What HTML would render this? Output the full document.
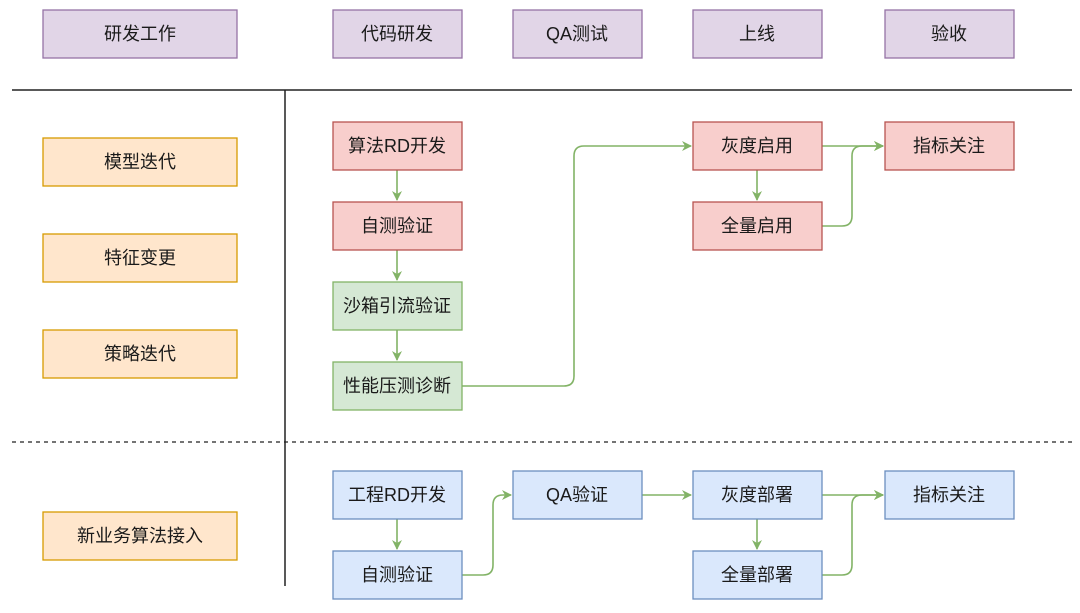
<!DOCTYPE html>
<html><head><meta charset="utf-8"><style>
html,body{margin:0;padding:0;background:#fff;}
svg{display:block;}
text{font-family:"Liberation Sans","Noto Sans CJK SC",sans-serif;font-size:18px;fill:#1a1a1a;text-anchor:middle;dominant-baseline:central;}
.p{fill:#e1d5e7;stroke:#9673a6;stroke-width:1.3}
.o{fill:#ffe6cc;stroke:#d79b00;stroke-width:1.3}
.r{fill:#f8cecc;stroke:#b85450;stroke-width:1.3}
.g{fill:#d5e8d4;stroke:#82b366;stroke-width:1.3}
.b{fill:#dae8fc;stroke:#6c8ebf;stroke-width:1.3}
.e{fill:none;stroke:#82b366;stroke-width:1.6}
</style></head><body>
<svg width="1080" height="613" viewBox="0 0 1080 613">
<defs><marker id="a" markerWidth="10" markerHeight="10" refX="9" refY="5" orient="auto" markerUnits="userSpaceOnUse"><path d="M0,0 L10,5 L0,10 L3,5 Z" fill="#82b366"/></marker></defs>
<line x1="12" y1="90" x2="1072" y2="90" stroke="#222" stroke-width="1.5"/>
<line x1="285" y1="90" x2="285" y2="586" stroke="#222" stroke-width="1.5"/>
<line x1="12" y1="442" x2="1072" y2="442" stroke="#222" stroke-width="1.3" stroke-dasharray="4,4"/>

<rect class="p" x="43" y="10" width="194" height="48"/><text x="140" y="34">研发工作</text>
<rect class="p" x="333" y="10" width="129" height="48"/><text x="397" y="34">代码研发</text>
<rect class="p" x="513" y="10" width="129" height="48"/><text x="577" y="34">QA测试</text>
<rect class="p" x="693" y="10" width="129" height="48"/><text x="757" y="34">上线</text>
<rect class="p" x="885" y="10" width="129" height="48"/><text x="949" y="34">验收</text>

<rect class="o" x="43" y="138" width="194" height="48"/><text x="140" y="162">模型迭代</text>
<rect class="o" x="43" y="234" width="194" height="48"/><text x="140" y="258">特征变更</text>
<rect class="o" x="43" y="330" width="194" height="48"/><text x="140" y="354">策略迭代</text>
<rect class="o" x="43" y="512" width="194" height="48"/><text x="140" y="536">新业务算法接入</text>

<path class="e" d="M397,170 V200" marker-end="url(#a)"/>
<path class="e" d="M397,250 V280" marker-end="url(#a)"/>
<path class="e" d="M397,330 V360" marker-end="url(#a)"/>
<path class="e" d="M462,386 H564 Q574,386 574,376 V156 Q574,146 584,146 H691" marker-end="url(#a)"/>
<path class="e" d="M822,146 H883" marker-end="url(#a)"/>
<path class="e" d="M757,170 V200" marker-end="url(#a)"/>
<path class="e" d="M822,226 H842 Q852,226 852,216 V156 Q852,146 862,146 H883" marker-end="url(#a)"/>

<rect class="r" x="333" y="122" width="129" height="48"/><text x="397" y="146">算法RD开发</text>
<rect class="r" x="333" y="202" width="129" height="48"/><text x="397" y="226">自测验证</text>
<rect class="g" x="333" y="282" width="129" height="48"/><text x="397" y="306">沙箱引流验证</text>
<rect class="g" x="333" y="362" width="129" height="48"/><text x="397" y="386">性能压测诊断</text>
<rect class="r" x="693" y="122" width="129" height="48"/><text x="757" y="146">灰度启用</text>
<rect class="r" x="693" y="202" width="129" height="48"/><text x="757" y="226">全量启用</text>
<rect class="r" x="885" y="122" width="129" height="48"/><text x="949" y="146">指标关注</text>

<path class="e" d="M397,519 V549" marker-end="url(#a)"/>
<path class="e" d="M462,575 H483 Q493,575 493,565 V505 Q493,495 503,495 H511" marker-end="url(#a)"/>
<path class="e" d="M642,495 H691" marker-end="url(#a)"/>
<path class="e" d="M822,495 H883" marker-end="url(#a)"/>
<path class="e" d="M757,519 V549" marker-end="url(#a)"/>
<path class="e" d="M822,575 H842 Q852,575 852,565 V505 Q852,495 862,495 H883" marker-end="url(#a)"/>

<rect class="b" x="333" y="471" width="129" height="48"/><text x="397" y="495">工程RD开发</text>
<rect class="b" x="333" y="551" width="129" height="48"/><text x="397" y="575">自测验证</text>
<rect class="b" x="513" y="471" width="129" height="48"/><text x="577" y="495">QA验证</text>
<rect class="b" x="693" y="471" width="129" height="48"/><text x="757" y="495">灰度部署</text>
<rect class="b" x="693" y="551" width="129" height="48"/><text x="757" y="575">全量部署</text>
<rect class="b" x="885" y="471" width="129" height="48"/><text x="949" y="495">指标关注</text>
</svg>
</body></html>
